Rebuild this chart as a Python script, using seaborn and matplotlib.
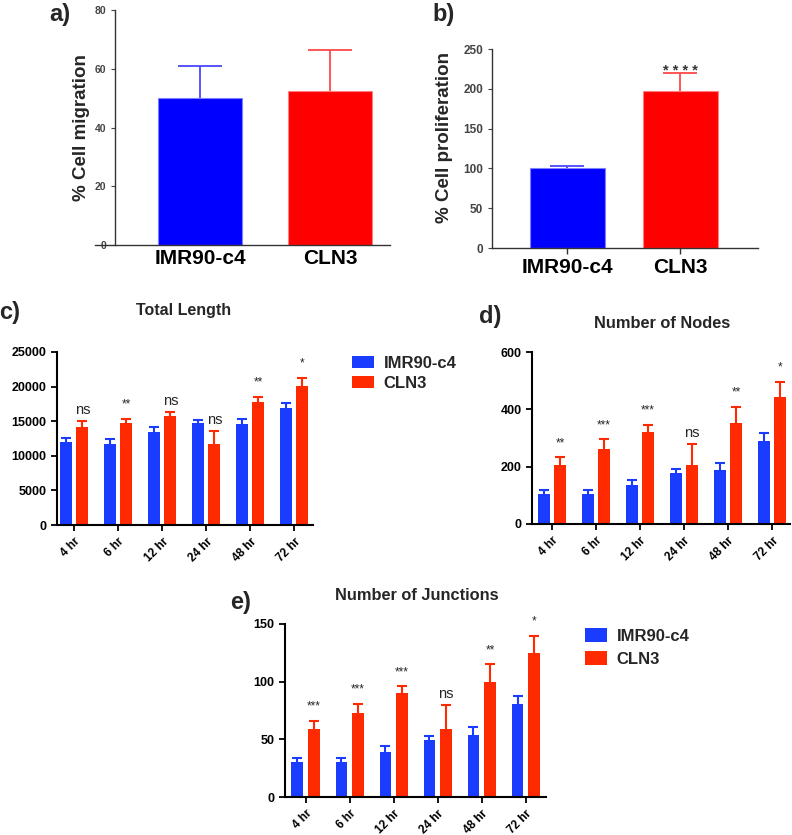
import numpy as np
import pandas as pd
import matplotlib
matplotlib.use("Agg")
import matplotlib.pyplot as plt
import seaborn as sns

# ---- data ----
groups = ["IMR90-c4", "CLN3"]
migration = [50, 52.5]
migration_err = [11, 14]
proliferation = [100, 197]
proliferation_err = [3, 23]
prolif_sig = "* * * *"

timepoints = ["4 hr", "6 hr", "12 hr", "24 hr", "48 hr", "72 hr"]
length_imr = [12000, 11700, 13400, 14700, 14600, 16900]
length_imr_err = [600, 700, 800, 500, 700, 700]
length_cln = [14100, 14800, 15800, 11700, 17800, 20100]
length_cln_err = [900, 500, 500, 1900, 700, 1200]
length_sig = ["ns", "**", "ns", "ns", "**", "*"]

nodes_imr = [105, 105, 137, 177, 190, 290]
nodes_imr_err = [15, 15, 18, 15, 23, 28]
nodes_cln = [205, 262, 320, 207, 353, 443]
nodes_cln_err = [27, 33, 25, 71, 55, 54]
nodes_sig = ["**", "***", "***", "ns", "**", "*"]

junc_imr = [30, 30, 39, 49, 54, 81]
junc_imr_err = [4, 4, 5, 4, 7, 7]
junc_cln = [59, 73, 90, 59, 100, 125]
junc_cln_err = [7, 8, 6, 21, 15, 15]
junc_sig = ["***", "***", "***", "ns", "**", "*"]

sns.set_theme(style="ticks")
plt.rcParams["font.family"] = ["Liberation Sans", "DejaVu Sans"]
plt.rcParams["font.weight"] = "bold"

W, H = 792, 835
fig = plt.figure(figsize=(W / 100, H / 100), dpi=100)


def px_axes(x0, y_top, x1, y_bot):
    return fig.add_axes([x0 / W, 1 - y_bot / H, (x1 - x0) / W, (y_bot - y_top) / H])


def fig_text(x, y, s, **kw):
    fig.text(x / W, 1 - y / H, s, **kw)


def upper_err(ax, x, y, err, color, lw, capsize):
    # one-sided (upper) error bar, like GraphPad
    eb = ax.errorbar(x, y, yerr=[np.zeros(len(err)), err], fmt="none", ecolor=color,
                     elinewidth=lw, capsize=capsize, capthick=lw)
    eb[1][0].set_visible(False)


# ---------- a) and b) simple bars ----------
top_blue, top_red = "#0000ff", "#ff0000"


def simple_bars(ax, vals, errs, width, capsize, label):
    sns.barplot(x=groups, y=vals, hue=groups, palette=[top_blue, top_red], saturation=1,
                width=width, legend=False, ax=ax, edgecolor="#8080ff", linewidth=0.8)
    ax.patches[1].set_edgecolor("#ff8080")
    for i, c in enumerate(["#4848ff", "#ff4848"]):
        upper_err(ax, [i], [vals[i]], [errs[i]], c, 1.3, capsize)
    ax.set_ylabel(label, fontsize=13.5, fontweight="bold")
    ax.set_xlabel("")
    sns.despine(ax=ax)
    for s in ["left", "bottom"]:
        ax.spines[s].set_color("#333333")
        ax.spines[s].set_linewidth(1.0)
    ax.tick_params(axis="y", labelsize=7.5, colors="#444444", length=3, width=0.8)
    ax.tick_params(axis="x", labelsize=15, length=0, pad=3)
    for t in ax.get_xticklabels():
        t.set_fontweight("bold")
        t.set_color("black")


ax_a = px_axes(95, 10, 390, 245)
simple_bars(ax_a, migration, migration_err, 0.65, 16, "% Cell migration")
ax_a.set_ylim(0, 80)
ax_a.set_yticks([0, 20, 40, 60, 80])
ax_a.set_xlim(-0.808, 1.46)
ax_a.spines["left"].set_position(("data", -0.654))
ax_a.yaxis.set_label_coords(-0.017, 0.5)

ax_b = px_axes(492, 49, 758, 248)
simple_bars(ax_b, proliferation, proliferation_err, 0.66, 12, "% Cell proliferation")
ax_b.set_ylim(0, 250)
ax_b.set_yticks([0, 50, 100, 150, 200, 250])
ax_b.set_xlim(-0.668, 1.686)
ax_b.tick_params(axis="y", labelsize=8.5)
ax_b.tick_params(axis="x", length=4, width=1, color="#333333")
ax_b.yaxis.set_label_coords(-0.147, 0.553)
ax_b.text(1, proliferation[1] + proliferation_err[1] - 7, prolif_sig, ha="center",
          va="bottom", fontsize=10.5, color="#333333")

fig_text(60, 14, "a)", fontsize=17, fontweight="bold", ha="center", va="center")
fig_text(444, 14, "b)", fontsize=17, fontweight="bold", ha="center", va="center")

# ---------- c), d), e) grouped bars ----------
low_blue, low_red = "#1a3cff", "#ff2a00"


def grouped(ax, imr, imr_err, cln, cln_err, sig, legend):
    df = pd.DataFrame({
        "time": timepoints * 2,
        "value": imr + cln,
        "line": ["IMR90-c4"] * 6 + ["CLN3"] * 6,
    })
    sns.barplot(data=df, x="time", y="value", hue="line", palette=[low_blue, low_red],
                saturation=1, width=0.75, gap=0.28, errorbar=None, ax=ax,
                legend=legend, edgecolor="none")
    for cont, errs, col in zip(ax.containers, [imr_err, cln_err], [low_blue, low_red]):
        xs = [p.get_x() + p.get_width() / 2 for p in cont]
        hs = [p.get_height() for p in cont]
        upper_err(ax, xs, hs, errs, col, 1.5, 3.5)
    red_cont = ax.containers[1]
    for p, e, s in zip(red_cont, cln_err, sig):
        xc = p.get_x() + p.get_width() / 2
        top = p.get_height() + e
        if s == "ns":
            ax.annotate(s, (xc, top), xytext=(0, 3), textcoords="offset points",
                        ha="center", va="bottom", fontsize=10.5, fontweight="normal")
        else:
            ax.annotate(s, (xc, top), xytext=(0, 6), textcoords="offset points",
                        ha="center", va="bottom", fontsize=8.5, fontweight="normal")
    sns.despine(ax=ax)
    for s in ["left", "bottom"]:
        ax.spines[s].set_color("black")
        ax.spines[s].set_linewidth(1.5)
    ax.set_xlabel("")
    ax.set_ylabel("")
    ax.tick_params(axis="both", labelsize=9, length=4, width=1.3, colors="black")
    for t in ax.get_yticklabels():
        t.set_fontweight("bold")
    ax.set_xticks(range(6))
    ax.set_xticklabels(timepoints, rotation=45, ha="right", rotation_mode="anchor",
                       fontsize=8.5, fontweight="bold")


def legend_at(ax, x, y, hh, spacing):
    handles, labels = ax.get_legend_handles_labels()
    ax.legend(handles, labels, loc="upper left", bbox_to_anchor=(x / W, 1 - y / H),
              bbox_transform=fig.transFigure, frameon=False, handlelength=1.3,
              handleheight=hh, handletextpad=0.6, labelspacing=spacing,
              prop={"weight": "bold", "size": 12}, borderaxespad=0, borderpad=0)


ax_c = px_axes(57, 352, 313, 525)
grouped(ax_c, length_imr, length_imr_err, length_cln, length_cln_err, length_sig, True)
ax_c.set_ylim(0, 25000)
ax_c.set_yticks(range(0, 25001, 5000))
ax_c.set_xlim(-0.39, 5.43)
legend_at(ax_c, 352, 356, 0.72, 0.3)

ax_d = px_axes(532, 352, 790, 524)
grouped(ax_d, nodes_imr, nodes_imr_err, nodes_cln, nodes_cln_err, nodes_sig, False)
ax_d.set_ylim(0, 600)
ax_d.set_yticks([0, 200, 400, 600])
ax_d.set_xlim(-0.45, 5.41)

ax_e = px_axes(285, 624, 546, 797)
grouped(ax_e, junc_imr, junc_imr_err, junc_cln, junc_cln_err, junc_sig, True)
ax_e.set_ylim(0, 150)
ax_e.set_yticks([0, 50, 100, 150])
ax_e.set_xlim(-0.47, 5.46)
legend_at(ax_e, 585, 628, 0.9, 0.45)

fig_text(184, 310, "Total Length", fontsize=11.5, fontweight="bold", ha="center", va="center")
fig_text(662, 323, "Number of Nodes", fontsize=11.8, fontweight="bold", ha="center", va="center")
fig_text(417, 595, "Number of Junctions", fontsize=11.8, fontweight="bold", ha="center", va="center")

fig_text(10, 312, "c)", fontsize=17, fontweight="bold", ha="center", va="center")
fig_text(490, 316, "d)", fontsize=17, fontweight="bold", ha="center", va="center")
fig_text(241, 602, "e)", fontsize=17, fontweight="bold", ha="center", va="center")

fig.savefig("out.png", dpi=100)
